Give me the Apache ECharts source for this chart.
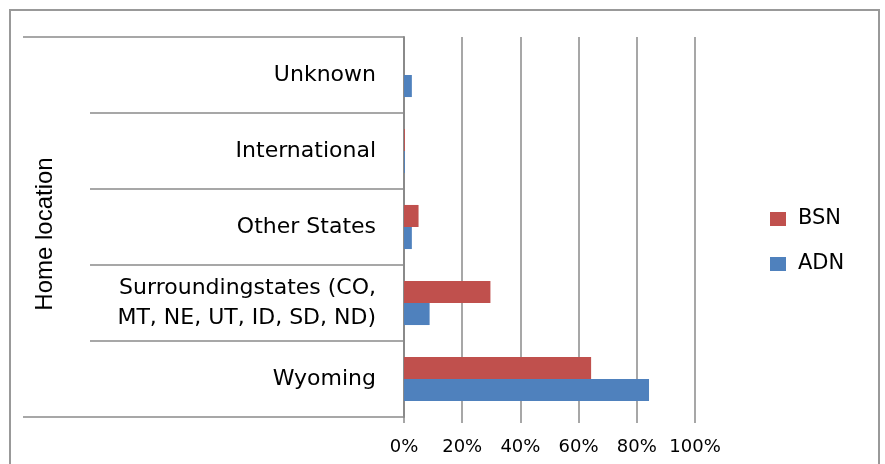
<!DOCTYPE html>
<html>
<head>
<meta charset="utf-8">
<script src="https://cdn.jsdelivr.net/npm/echarts@6/dist/echarts.min.js"></script>
<style>
  html, body { margin: 0; padding: 0; background: #fff; }
  #frame {
    position: absolute; left: 9px; top: 9px; width: 867px; height: 470px;
    border: 2px solid #999; border-bottom: none;
  }
  #chart { position: absolute; left: 0; top: 0; width: 885px; height: 464px; }
</style>
</head>
<body>
<div id="frame"></div>
<div id="chart"></div>
<script>
// categories listed bottom to top, as ECharts draws a y category axis
const locations = [
  "Wyoming",
  "Surroundingstates (CO,\nMT, NE, UT, ID, SD, ND)",
  "Other States",
  "International",
  "Unknown",
];
const bsnShare = [64.3, 29.7, 5.0, 0.3, 0];
const adnShare = [84.2, 8.8, 2.7, 0.3, 2.7];
const percentTicks = [0, 20, 40, 60, 80, 100];

const gridColor = "#8a8a8a";
const labelFont = "DejaVu Sans";

const chart = echarts.init(document.getElementById("chart"));

const options = {
  animation: false,
  grid: {
    left: 404,
    right: 190,
    top: 37,
    bottom: 47,
  },
  legend: {
    orient: "vertical",
    left: 770,
    top: 208,
    padding: 0,
    data: ["BSN", "ADN"],
    icon: "rect",
    itemWidth: 16,
    itemHeight: 14,
    itemGap: 23,
    textStyle: {
      fontFamily: labelFont,
      fontSize: 21,
      color: "#000",
      lineHeight: 22,
      padding: [0, 0, 0, 7],
    },
  },
  xAxis: {
    type: "value",
    min: percentTicks[0],
    max: percentTicks[percentTicks.length - 1],
    interval: 20,
    axisLine: { show: false },
    axisTick: {
      show: true,
      length: 6,
      lineStyle: { color: gridColor, width: 1.5 },
    },
    splitLine: {
      show: true,
      lineStyle: { color: gridColor, width: 1.5 },
    },
    axisLabel: {
      formatter: "{value}%",
      fontFamily: labelFont,
      fontSize: 18,
      color: "#000",
      margin: 21,
    },
  },
  yAxis: [
    {
      type: "category",
      data: locations,
      name: "Home location",
      nameLocation: "middle",
      nameRotate: 90,
      nameGap: 347,
      nameTextStyle: {
        fontFamily: "Liberation Sans",
        fontSize: 24,
        color: "#000",
        padding: [0, 14, 0, 0],
      },
      axisLine: { show: true, lineStyle: { color: gridColor, width: 2 } },
      axisTick: {
        show: true,
        length: 314,
        lineStyle: { color: gridColor, width: 1.5 },
      },
      axisLabel: {
        fontFamily: labelFont,
        fontSize: 22,
        color: "#000",
        margin: 28,
        align: "right",
        lineHeight: 30,
        padding: [10, 0, 0, 0],
      },
    },
    {
      // outer frame lines at top and bottom of the category axis
      type: "category",
      data: locations,
      position: "left",
      axisLine: { show: false },
      axisLabel: { show: false },
      axisTick: {
        show: true,
        length: 381,
        interval: (i) => i === 0,
        lineStyle: { color: gridColor, width: 1.5 },
      },
    },
  ],
  series: [
    {
      name: "BSN",
      type: "bar",
      data: bsnShare,
      barGap: 0,
      barCategoryGap: "42%",
      itemStyle: { color: "#c0504d" },
    },
    {
      name: "ADN",
      type: "bar",
      data: adnShare,
      barGap: 0,
      barCategoryGap: "42%",
      itemStyle: { color: "#4f81bd" },
    },
  ],
};

chart.setOption(options);
</script>
</body>
</html>
